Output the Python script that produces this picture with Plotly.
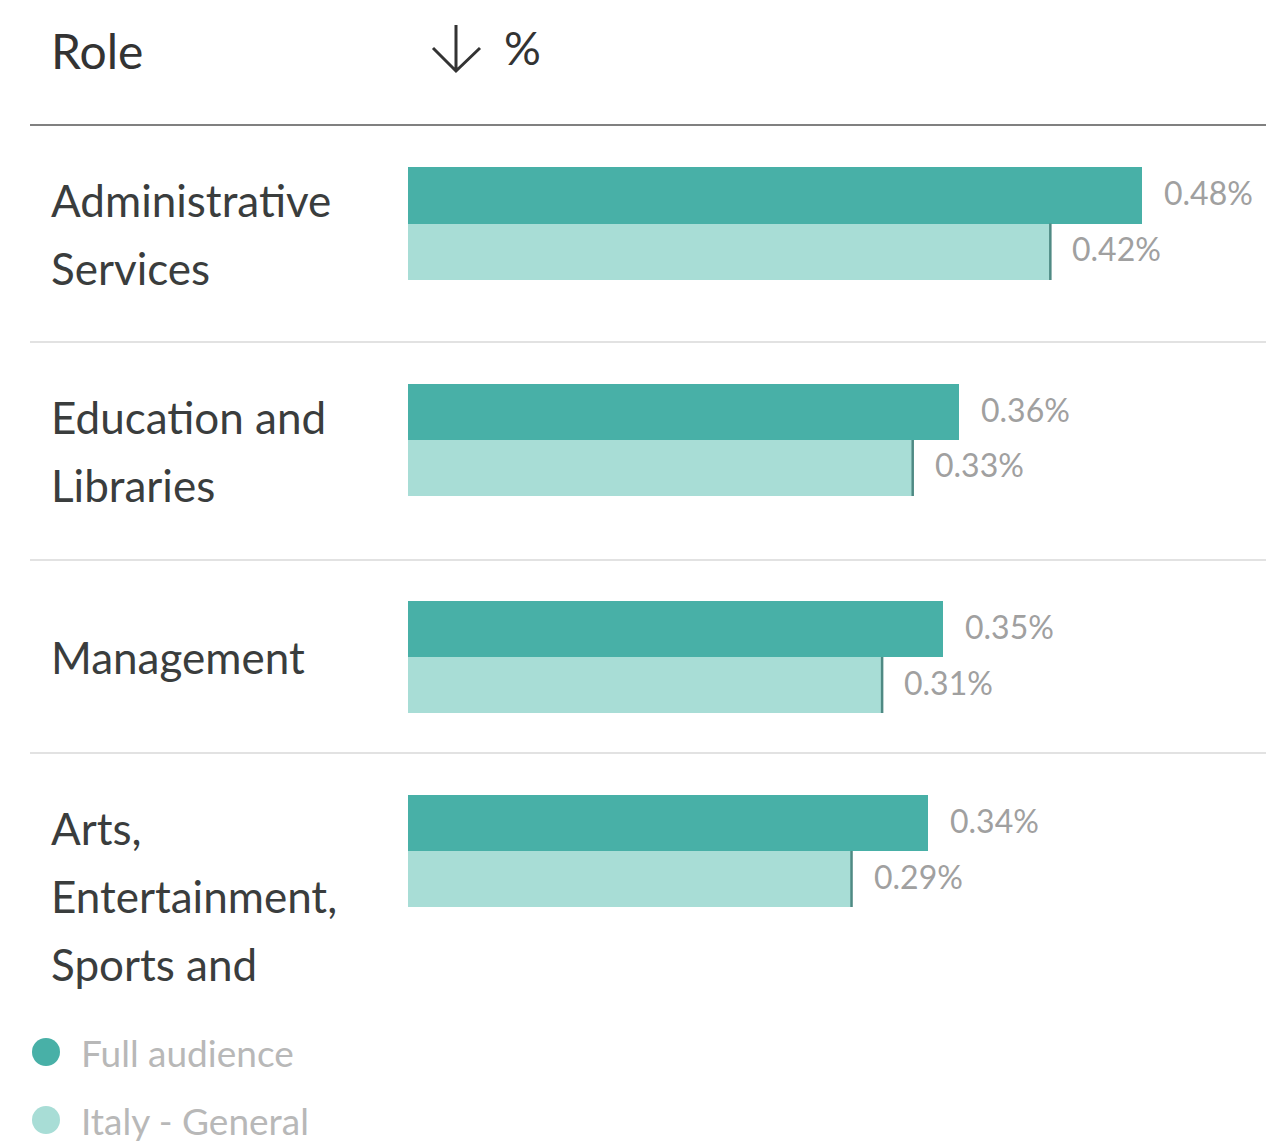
import plotly.graph_objects as go

# Role categories (label lines as displayed) and the two audience series, in %
roles = [
    ["Administrative", "Services"],
    ["Education and", "Libraries"],
    ["Management"],
    ["Arts,", "Entertainment,", "Sports and"],
]
full_audience = [0.48, 0.36, 0.35, 0.34]
italy_general = [0.42, 0.33, 0.31, 0.29]
series_names = ["Full audience", "Italy - General"]
series_colors = ["#48b0a7", "#a8ddd6"]

W, H = 1266, 1142
FONT = "Lato"
X_MAX = 0.561


def fy(px):
    return 1 - px / H


def fx(px):
    return px / W


# vertical pixel extents of each row's bar pair, and the separator rules
row_px = [(167, 280), (384, 496), (601, 713), (795, 907)]
sep_px = [342, 560, 753]

fig = go.Figure()
layout = {}
annotations = []
shapes = []

for i, (lines, fa, it) in enumerate(zip(roles, full_audience, italy_general)):
    sfx = "" if i == 0 else str(i + 1)
    xa, ya = f"x{sfx}", f"y{sfx}"
    name = " ".join(lines)
    for val, sname, col in zip([fa, it], series_names, series_colors):
        fig.add_trace(go.Bar(
            x=[val], y=[name], orientation="h", name=sname,
            marker=dict(color=col, line=dict(width=0)),
            xaxis=xa, yaxis=ya, showlegend=False, hoverinfo="skip",
        ))
    top, bot = row_px[i]
    layout[f"xaxis{sfx}"] = dict(domain=[fx(408), 1], range=[0, X_MAX], visible=False,
                                fixedrange=True, anchor=ya)
    layout[f"yaxis{sfx}"] = dict(domain=[fy(bot), fy(top)], type="category",
                                range=[0.5, -0.5], visible=False, fixedrange=True, anchor=xa)

    # value labels beside each bar
    for val, ypos in [(fa, 0.75), (it, 0.25)]:
        annotations.append(dict(
            x=val, y=ypos, xref=xa, yref=f"{ya} domain", xanchor="left", yanchor="middle",
            xshift=20, yshift=3, text=f"{val:.2f}%", showarrow=False,
            font=dict(family=FONT, size=32, color="#a0a0a0"),
        ))
    # end marker on the comparison bar
    shapes.append(dict(type="line", xref=xa, yref=f"{ya} domain", x0=it, x1=it, y0=0, y1=0.5,
                       line=dict(color="#4f8a84", width=2.5)))

    # category label lines
    h = bot - top
    for k, line in enumerate(lines):
        if len(lines) == 1:
            ypos = 0.5
        else:
            ypos = 1 - (33 + 68 * k) / h
        annotations.append(dict(
            x=fx(49), y=ypos, xref="paper", yref=f"{ya} domain", xanchor="left", yanchor="middle",
            text=line, showarrow=False, font=dict(family=FONT, size=44, color="#3a3d3d"),
        ))

# header
annotations.append(dict(x=fx(49), y=fy(50), xref="paper", yref="paper", xanchor="left",
                        yanchor="middle", text="Role", showarrow=False,
                        font=dict(family=FONT, size=48, color="#333333")))
annotations.append(dict(x=fx(502), y=fy(48), xref="paper", yref="paper", xanchor="left",
                        yanchor="middle", text="%", showarrow=False,
                        font=dict(family=FONT, size=46, color="#333333")))
# sort-direction arrow
arrow = (f"M {fx(456)} {fy(25)} L {fx(456)} {fy(71)} "
         f"M {fx(433)} {fy(48)} L {fx(456)} {fy(71)} L {fx(480)} {fy(48)}")
shapes.append(dict(type="path", xref="paper", yref="paper", path=arrow,
                   line=dict(color="#333333", width=3)))

# header rule and row separators
shapes.append(dict(type="line", xref="paper", yref="paper", x0=fx(30), x1=1, y0=fy(125), y1=fy(125),
                   line=dict(color="#808080", width=2)))
for s in sep_px:
    shapes.append(dict(type="line", xref="paper", yref="paper", x0=fx(30), x1=1, y0=fy(s), y1=fy(s),
                       line=dict(color="#e2e2e2", width=2)))

# legend
for k, (sname, col) in enumerate(zip(series_names, series_colors)):
    cy = 1052 + 68 * k
    shapes.append(dict(type="circle", xref="paper", yref="paper",
                       x0=fx(32), x1=fx(60), y0=fy(cy + 14), y1=fy(cy - 14),
                       fillcolor=col, line=dict(width=0)))
    annotations.append(dict(x=fx(79), y=fy(cy), xref="paper", yref="paper", xanchor="left",
                            yanchor="middle", text=sname, showarrow=False,
                            font=dict(family=FONT, size=37, color="#b8b8b8")))

fig.update_layout(
    width=W, height=H, margin=dict(l=0, r=0, t=0, b=0),
    paper_bgcolor="white", plot_bgcolor="white",
    barmode="group", bargap=0, bargroupgap=0,
    showlegend=False, annotations=annotations, shapes=shapes,
    **layout,
)

fig.write_html("out.html")
